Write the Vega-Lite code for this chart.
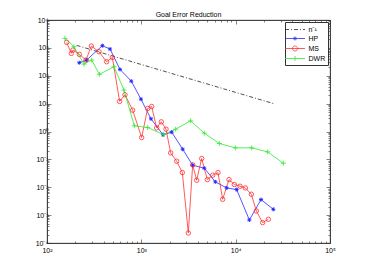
{
  "$schema": "https://vega.github.io/schema/vega-lite/v6.json",
  "width": 283,
  "height": 223,
  "autosize": {"type": "none"},
  "padding": {"left": 47, "top": 20, "right": 35, "bottom": 30},
  "background": "white",
  "title": {"text": "Goal Error Reduction", "fontSize": 7, "fontWeight": "normal", "font": "Liberation Sans", "offset": -1.5, "color": "black"},
  "config": {
    "view": {"stroke": "#333", "strokeWidth": 0.8},
    "font": "Liberation Sans",
    "axis": {"grid": false, "title": null, "domainColor": "#333", "domainWidth": 0.8, "tickColor": "#333", "tickWidth": 0.6, "labelFontSize": 7, "labelColor": "black", "labelFont": "Liberation Sans", "labelOverlap": false, "labelFlush": false, "labelBound": false},
    "legend": {"orient": "top-right", "offset": 2, "padding": 2, "strokeColor": "#333", "fillColor": "white", "labelFontSize": 7, "labelFont": "Liberation Sans", "labelOffset": 8, "symbolOffset": 2.5, "rowPadding": 0, "symbolStrokeWidth": 0.8, "symbolOpacity": 1, "title": null}
  },
  "data": {"values": [
    {"s": "n⁻¹", "x": 206, "y": 1230}, {"s": "n⁻¹", "x": 25060, "y": 10.1},
    {"s": "HP", "x": 220, "y": 293}, {"s": "HP", "x": 263, "y": 366}, {"s": "HP", "x": 386, "y": 1197}, {"s": "HP", "x": 466, "y": 908}, {"s": "HP", "x": 594, "y": 169}, {"s": "HP", "x": 783, "y": 64}, {"s": "HP", "x": 991, "y": 14.5}, {"s": "HP", "x": 1265, "y": 2.85}, {"s": "HP", "x": 1698, "y": 0.76}, {"s": "HP", "x": 2098, "y": 0.95}, {"s": "HP", "x": 2742, "y": 0.232}, {"s": "HP", "x": 3500, "y": 0.0617}, {"s": "HP", "x": 4656, "y": 0.0482}, {"s": "HP", "x": 6087, "y": 0.0156}, {"s": "HP", "x": 8030, "y": 0.00946}, {"s": "HP", "x": 10250, "y": 0.00824}, {"s": "HP", "x": 13970, "y": 0.00067}, {"s": "HP", "x": 18570, "y": 0.00361}, {"s": "HP", "x": 25060, "y": 0.00162},
    {"s": "MS", "x": 161.6, "y": 1577}, {"s": "MS", "x": 181, "y": 634}, {"s": "MS", "x": 188.7, "y": 836}, {"s": "MS", "x": 220, "y": 584}, {"s": "MS", "x": 259, "y": 366}, {"s": "MS", "x": 295, "y": 1164}, {"s": "MS", "x": 356, "y": 728}, {"s": "MS", "x": 429, "y": 318}, {"s": "MS", "x": 493, "y": 456}, {"s": "MS", "x": 589, "y": 12.0}, {"s": "MS", "x": 671, "y": 20.8}, {"s": "MS", "x": 809, "y": 5.84}, {"s": "MS", "x": 1008, "y": 0.608}, {"s": "MS", "x": 1167, "y": 6.7}, {"s": "MS", "x": 1287, "y": 7.9}, {"s": "MS", "x": 1454, "y": 1.355}, {"s": "MS", "x": 1629, "y": 2.22}, {"s": "MS", "x": 1826, "y": 1.21}, {"s": "MS", "x": 2046, "y": 0.171}, {"s": "MS", "x": 2370, "y": 0.0859}, {"s": "MS", "x": 2720, "y": 0.0336}, {"s": "MS", "x": 3149, "y": 0.000229}, {"s": "MS", "x": 3500, "y": 0.0634}, {"s": "MS", "x": 3861, "y": 0.0178}, {"s": "MS", "x": 4362, "y": 0.107}, {"s": "MS", "x": 5007, "y": 0.0188}, {"s": "MS", "x": 5703, "y": 0.027}, {"s": "MS", "x": 6497, "y": 0.0336}, {"s": "MS", "x": 7280, "y": 0.00371}, {"s": "MS", "x": 8497, "y": 0.0188}, {"s": "MS", "x": 9683, "y": 0.0125}, {"s": "MS", "x": 11120, "y": 0.01086}, {"s": "MS", "x": 12660, "y": 0.00946}, {"s": "MS", "x": 14660, "y": 0.00561}, {"s": "MS", "x": 16560, "y": 0.00141}, {"s": "MS", "x": 19320, "y": 0.000538}, {"s": "MS", "x": 22190, "y": 0.000708},
    {"s": "DWR", "x": 155, "y": 2193}, {"s": "DWR", "x": 193, "y": 1101}, {"s": "DWR", "x": 247, "y": 262}, {"s": "DWR", "x": 298, "y": 366}, {"s": "DWR", "x": 359, "y": 112}, {"s": "DWR", "x": 513, "y": 211}, {"s": "DWR", "x": 655, "y": 30.5}, {"s": "DWR", "x": 843, "y": 1.6}, {"s": "DWR", "x": 1167, "y": 1.39}, {"s": "DWR", "x": 1711, "y": 0.78}, {"s": "DWR", "x": 2312, "y": 1.21}, {"s": "DWR", "x": 3334, "y": 2.42}, {"s": "DWR", "x": 4653, "y": 0.871}, {"s": "DWR", "x": 6712, "y": 0.371}, {"s": "DWR", "x": 9920, "y": 0.259}, {"s": "DWR", "x": 14780, "y": 0.259}, {"s": "DWR", "x": 21840, "y": 0.186}, {"s": "DWR", "x": 32000, "y": 0.0728}
  ]},
  "encoding": {
    "x": {"field": "x", "type": "quantitative", "scale": {"type": "log", "domain": [100, 100000], "nice": false}, "axis": null},
    "y": {"field": "y", "type": "quantitative", "scale": {"type": "log", "domain": [0.0001, 10000], "nice": false}, "axis": null}
  },
  "layer": [
    {
      "transform": [{"filter": "datum.s == 'n⁻¹'"}],
      "mark": {"type": "line", "color": "#222", "strokeWidth": 0.8, "strokeDash": [4, 2, 1, 2]},
      "encoding": {
        "x": {"field": "x", "type": "quantitative", "scale": {"type": "log", "domain": [100, 100000], "nice": false},
          "axis": {"orient": "bottom", "values": [100,200,300,400,500,600,700,800,900,1000,2000,3000,4000,5000,6000,7000,8000,9000,10000,20000,30000,40000,50000,60000,70000,80000,90000,100000],
            "tickSize": {"condition": {"test": "abs(log(datum.value)/LN10 - round(log(datum.value)/LN10)) < 0.01", "value": -4}, "value": -2},
            "labelPadding": 7,
            "labelExpr": "abs(log(datum.value)/LN10 - round(log(datum.value)/LN10)) < 0.01 ? '10' + ['⁰','¹','²','³','⁴','⁵'][round(log(datum.value)/LN10)] : ''"}},
        "y": {"field": "y", "type": "quantitative", "scale": {"type": "log", "domain": [0.0001, 10000], "nice": false},
          "axis": {"orient": "left", "values": [0.0001,0.0002,0.0003,0.0004,0.0005,0.0006,0.0007,0.0008,0.0009,0.001,0.002,0.003,0.004,0.005,0.006,0.007,0.008,0.009,0.01,0.02,0.03,0.04,0.05,0.06,0.07,0.08,0.09,0.1,0.2,0.3,0.4,0.5,0.6,0.7,0.8,0.9,1,2,3,4,5,6,7,8,9,10,20,30,40,50,60,70,80,90,100,200,300,400,500,600,700,800,900,1000,2000,3000,4000,5000,6000,7000,8000,9000,10000],
            "tickSize": {"condition": {"test": "abs(log(datum.value)/LN10 - round(log(datum.value)/LN10)) < 0.01", "value": -4}, "value": -2},
            "labelPadding": 3,
            "labelExpr": "abs(log(datum.value)/LN10 - round(log(datum.value)/LN10)) < 0.01 ? '10' + (round(log(datum.value)/LN10) < 0 ? '⁻' : '') + ['⁰','¹','²','³','⁴','⁵'][abs(round(log(datum.value)/LN10))] : ''"}}
      }
    },
    {
      "transform": [{"filter": "datum.s == 'HP'"}],
      "mark": {"type": "line", "strokeWidth": 0.8, "color": "#2a2aff"}
    },
    {
      "transform": [{"filter": "datum.s == 'MS'"}],
      "mark": {"type": "line", "strokeWidth": 0.8, "color": "#ff3030"}
    },
    {
      "transform": [{"filter": "datum.s == 'DWR'"}],
      "mark": {"type": "line", "strokeWidth": 0.8, "color": "#2ee82e"}
    },
    {
      "transform": [{"filter": "datum.s == 'HP'"}],
      "mark": {"type": "point", "shape": "M-1,0H1M0,-1V1M-0.7,-0.7L0.7,0.7M-0.7,0.7L0.7,-0.7", "size": 16, "strokeWidth": 1, "filled": false, "color": "#2a2aff", "opacity": 1},
      "encoding": {
        "x": {"field": "x", "type": "quantitative", "scale": {"type": "log", "domain": [100, 100000], "nice": false},
          "axis": {"orient": "top", "labels": false, "values": [100,200,300,400,500,600,700,800,900,1000,2000,3000,4000,5000,6000,7000,8000,9000,10000,20000,30000,40000,50000,60000,70000,80000,90000,100000],
            "tickSize": {"condition": {"test": "abs(log(datum.value)/LN10 - round(log(datum.value)/LN10)) < 0.01", "value": -4}, "value": -2}}},
        "y": {"field": "y", "type": "quantitative", "scale": {"type": "log", "domain": [0.0001, 10000], "nice": false},
          "axis": {"orient": "right", "labels": false, "values": [0.0001,0.0002,0.0003,0.0004,0.0005,0.0006,0.0007,0.0008,0.0009,0.001,0.002,0.003,0.004,0.005,0.006,0.007,0.008,0.009,0.01,0.02,0.03,0.04,0.05,0.06,0.07,0.08,0.09,0.1,0.2,0.3,0.4,0.5,0.6,0.7,0.8,0.9,1,2,3,4,5,6,7,8,9,10,20,30,40,50,60,70,80,90,100,200,300,400,500,600,700,800,900,1000,2000,3000,4000,5000,6000,7000,8000,9000,10000],
            "tickSize": {"condition": {"test": "abs(log(datum.value)/LN10 - round(log(datum.value)/LN10)) < 0.01", "value": -4}, "value": -2}}}
      }
    },
    {
      "transform": [{"filter": "datum.s == 'MS'"}],
      "mark": {"type": "point", "shape": "circle", "size": 20, "strokeWidth": 0.8, "filled": false, "color": "#ff3030", "opacity": 1}
    },
    {
      "transform": [{"filter": "datum.s == 'DWR'"}],
      "mark": {"type": "point", "shape": "M-1,0H1M0,-1V1", "size": 25, "strokeWidth": 0.8, "filled": false, "color": "#2ee82e", "opacity": 1}
    },
    {
      "transform": [{"filter": "false"}],
      "mark": {"type": "point", "strokeWidth": 0.8, "filled": false},
      "encoding": {
        "color": {"field": "s", "type": "nominal", "scale": {"domain": ["n⁻¹", "HP", "MS", "DWR"], "range": ["#222222", "#2a2aff", "#ff3030", "#2ee82e"]}, "title": null},
        "shape": {"field": "s", "type": "nominal", "scale": {"domain": ["n⁻¹", "HP", "MS", "DWR"], "range": ["M-2,0H2", "M-2,0H2M0,-0.4V0.4M-0.28,-0.28L0.28,0.28M-0.28,0.28L0.28,-0.28", "M-2,0H2M-0.5,0A0.5,0.5,0,1,0,0.5,0A0.5,0.5,0,1,0,-0.5,0", "M-2,0H2M0,-0.5V0.5"]}, "title": null},
        "strokeDash": {"field": "s", "type": "nominal", "scale": {"domain": ["n⁻¹", "HP", "MS", "DWR"], "range": [[4, 2, 1, 2], [1, 0], [1, 0], [1, 0]]}, "title": null}
      }
    }
  ]
}
